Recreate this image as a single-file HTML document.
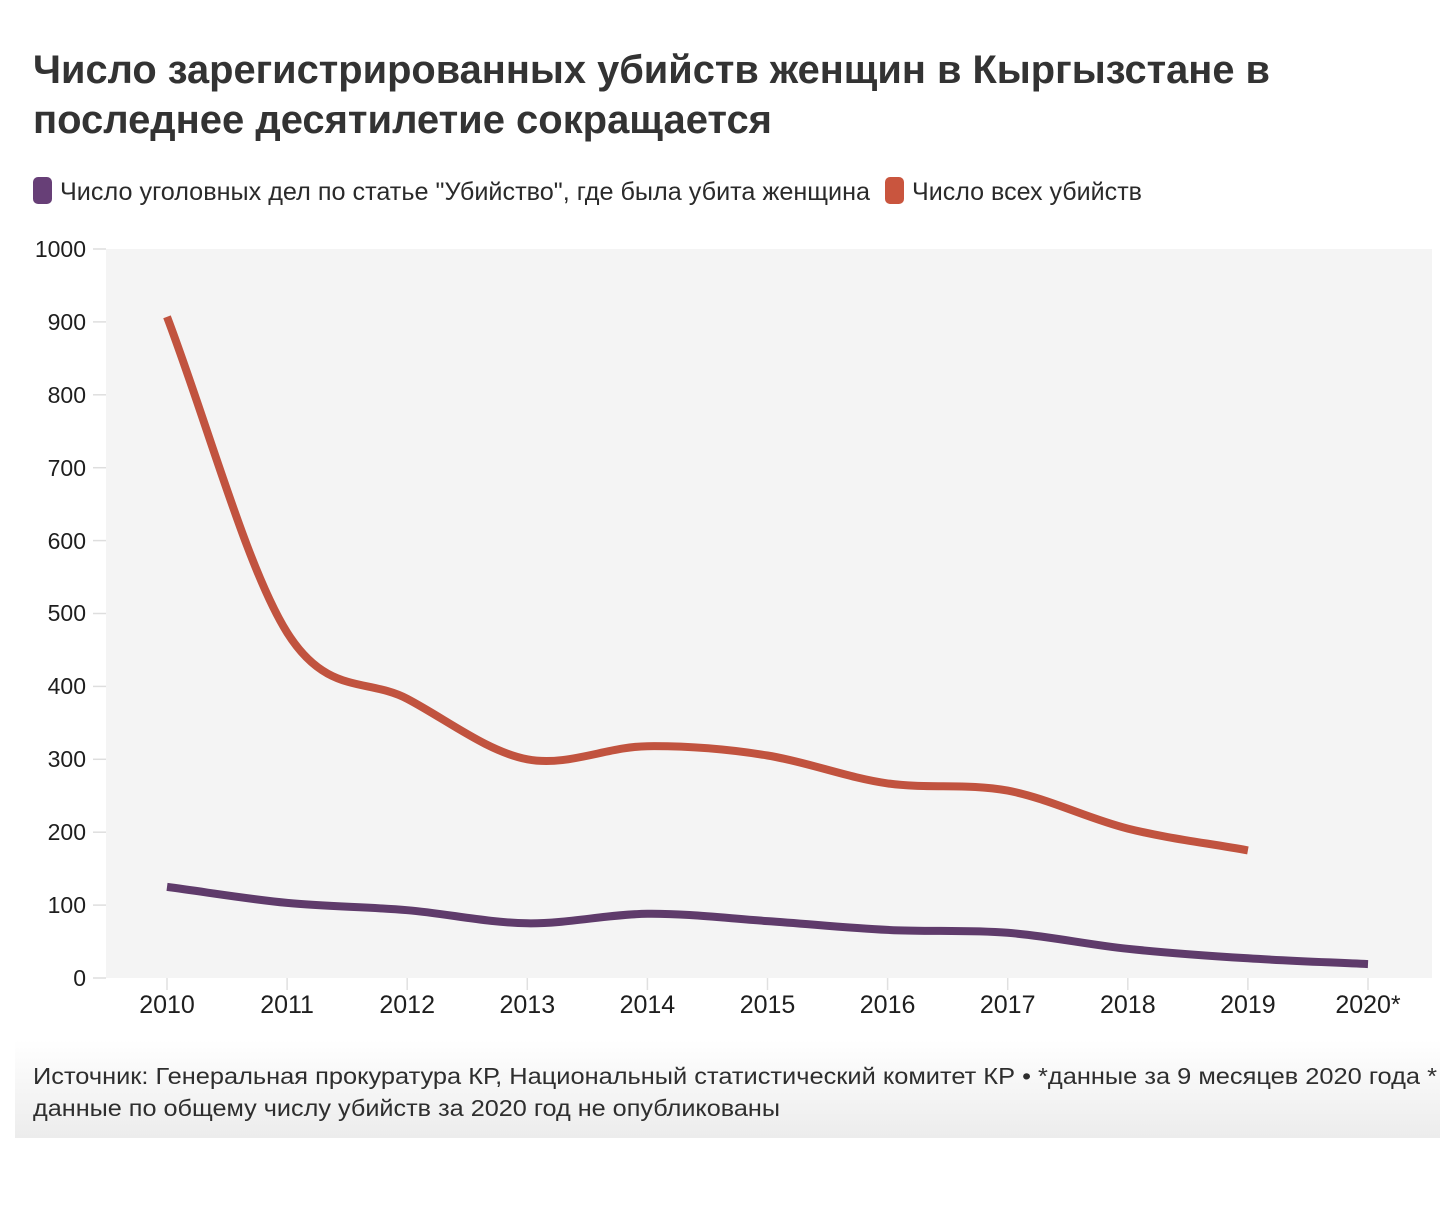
<!DOCTYPE html>
<html>
<head>
<meta charset="utf-8">
<style>
  html,body{margin:0;padding:0;background:#fff;}
  svg{display:block;}
  text{font-family:"Liberation Sans","DejaVu Sans",sans-serif;}
</style>
</head>
<body>
<svg width="1440" height="1215" viewBox="0 0 1440 1215" xmlns="http://www.w3.org/2000/svg">
  <defs>
    <linearGradient id="fg" x1="0" y1="0" x2="0" y2="1">
      <stop offset="0" stop-color="#ffffff"/>
      <stop offset="1" stop-color="#ececec"/>
    </linearGradient>
  </defs>
  <rect x="0" y="0" width="1440" height="1215" fill="#ffffff"/>

  <!-- Title -->
  <text x="33" y="83" font-size="40" font-weight="bold" fill="#333333" textLength="1237" lengthAdjust="spacingAndGlyphs">Число зарегистрированных убийств женщин в Кыргызстане в</text>
  <text x="33" y="133" font-size="40" font-weight="bold" fill="#333333" textLength="739" lengthAdjust="spacingAndGlyphs">последнее десятилетие сокращается</text>

  <!-- Legend -->
  <rect x="33" y="177" width="19" height="27" rx="5" fill="#673f77"/>
  <text x="60" y="200" font-size="25" fill="#2a2a2a" textLength="810" lengthAdjust="spacingAndGlyphs">Число уголовных дел по статье "Убийство", где была убита женщина</text>
  <rect x="885" y="177" width="19" height="27" rx="5" fill="#c9553e"/>
  <text x="912" y="200" font-size="25" fill="#2a2a2a" textLength="230" lengthAdjust="spacingAndGlyphs">Число всех убийств</text>

  <!-- Plot background -->
  <rect x="106" y="249" width="1326" height="729" fill="#f4f4f4"/>

  <!-- Y ticks -->
  <g stroke="#dedede" stroke-width="1.5">
    <line x1="93" y1="978" x2="106" y2="978"/>
    <line x1="93" y1="905.1" x2="106" y2="905.1"/>
    <line x1="93" y1="832.2" x2="106" y2="832.2"/>
    <line x1="93" y1="759.3" x2="106" y2="759.3"/>
    <line x1="93" y1="686.4" x2="106" y2="686.4"/>
    <line x1="93" y1="613.5" x2="106" y2="613.5"/>
    <line x1="93" y1="540.6" x2="106" y2="540.6"/>
    <line x1="93" y1="467.7" x2="106" y2="467.7"/>
    <line x1="93" y1="394.8" x2="106" y2="394.8"/>
    <line x1="93" y1="321.9" x2="106" y2="321.9"/>
    <line x1="93" y1="249" x2="106" y2="249"/>
  </g>
  <g font-size="23" fill="#1e1e1e" text-anchor="end">
    <text x="86" y="986">0</text>
    <text x="86" y="913">100</text>
    <text x="86" y="840">200</text>
    <text x="86" y="767">300</text>
    <text x="86" y="694">400</text>
    <text x="86" y="621">500</text>
    <text x="86" y="549">600</text>
    <text x="86" y="476">700</text>
    <text x="86" y="403">800</text>
    <text x="86" y="330">900</text>
    <text x="86" y="257">1000</text>
  </g>

  <!-- X ticks -->
  <g stroke="#e0e0e0" stroke-width="1.5">
    <line x1="167" y1="978" x2="167" y2="990"/>
    <line x1="287.1" y1="978" x2="287.1" y2="990"/>
    <line x1="407.2" y1="978" x2="407.2" y2="990"/>
    <line x1="527.3" y1="978" x2="527.3" y2="990"/>
    <line x1="647.4" y1="978" x2="647.4" y2="990"/>
    <line x1="767.5" y1="978" x2="767.5" y2="990"/>
    <line x1="887.6" y1="978" x2="887.6" y2="990"/>
    <line x1="1007.7" y1="978" x2="1007.7" y2="990"/>
    <line x1="1127.8" y1="978" x2="1127.8" y2="990"/>
    <line x1="1247.9" y1="978" x2="1247.9" y2="990"/>
    <line x1="1368" y1="978" x2="1368" y2="990"/>
  </g>
  <g font-size="25" fill="#1e1e1e" text-anchor="middle">
    <text x="167" y="1013">2010</text>
    <text x="287.1" y="1013">2011</text>
    <text x="407.2" y="1013">2012</text>
    <text x="527.3" y="1013">2013</text>
    <text x="647.4" y="1013">2014</text>
    <text x="767.5" y="1013">2015</text>
    <text x="887.6" y="1013">2016</text>
    <text x="1007.7" y="1013">2017</text>
    <text x="1127.8" y="1013">2018</text>
    <text x="1247.9" y="1013">2019</text>
    <text x="1368" y="1013">2020*</text>
  </g>

  <!-- Red series: all murders -->
  <path fill="none" stroke="#c1533f" stroke-width="8" stroke-linejoin="round"
    d="M167,316.8 C207.0,422.0 247.1,568.8 287.1,632.5
       C327.1,696.2 367.2,677.7 407.2,698.8
       C447.2,719.9 487.3,751.6 527.3,759.3
       C567.3,767.0 607.4,746.6 647.4,746.2
       C687.4,745.8 727.5,749.0 767.5,755.5
       C807.5,762.0 847.6,777.8 887.6,783.4
       C927.6,789.0 967.7,783.1 1007.7,790.6
       C1047.7,798.1 1087.8,818.6 1127.8,828.6
       C1167.8,838.6 1207.9,843.1 1247.9,850.4"/>

  <!-- Purple series: women murdered -->
  <path fill="none" stroke="#5f3b6b" stroke-width="8" stroke-linejoin="round"
    d="M167,886.9 C207.0,892.2 247.1,899.0 287.1,902.9
       C327.1,906.8 367.2,906.8 407.2,910.2
       C447.2,913.6 487.3,922.7 527.3,923.3
       C567.3,923.9 607.4,914.2 647.4,913.8
       C687.4,913.4 727.5,918.4 767.5,921.1
       C807.5,923.8 847.6,928.0 887.6,929.9
       C927.6,931.9 967.7,929.7 1007.7,932.8
       C1047.7,935.9 1087.8,944.6 1127.8,948.8
       C1167.8,953.1 1207.9,955.8 1247.9,958.3
       C1287.9,960.9 1328.0,962.2 1368.0,964.1"/>

  <!-- Footer -->
  <rect x="15" y="1040" width="1425" height="98" fill="url(#fg)"/>
  <text x="33" y="1084" font-size="23" fill="#2e2e2e" textLength="1404" lengthAdjust="spacingAndGlyphs">Источник: Генеральная прокуратура КР, Национальный статистический комитет КР • *данные за 9 месяцев 2020 года *</text>
  <text x="33" y="1116" font-size="23" fill="#2e2e2e" textLength="747" lengthAdjust="spacingAndGlyphs">данные по общему числу убийств за 2020 год не опубликованы</text>
</svg>
</body>
</html>
